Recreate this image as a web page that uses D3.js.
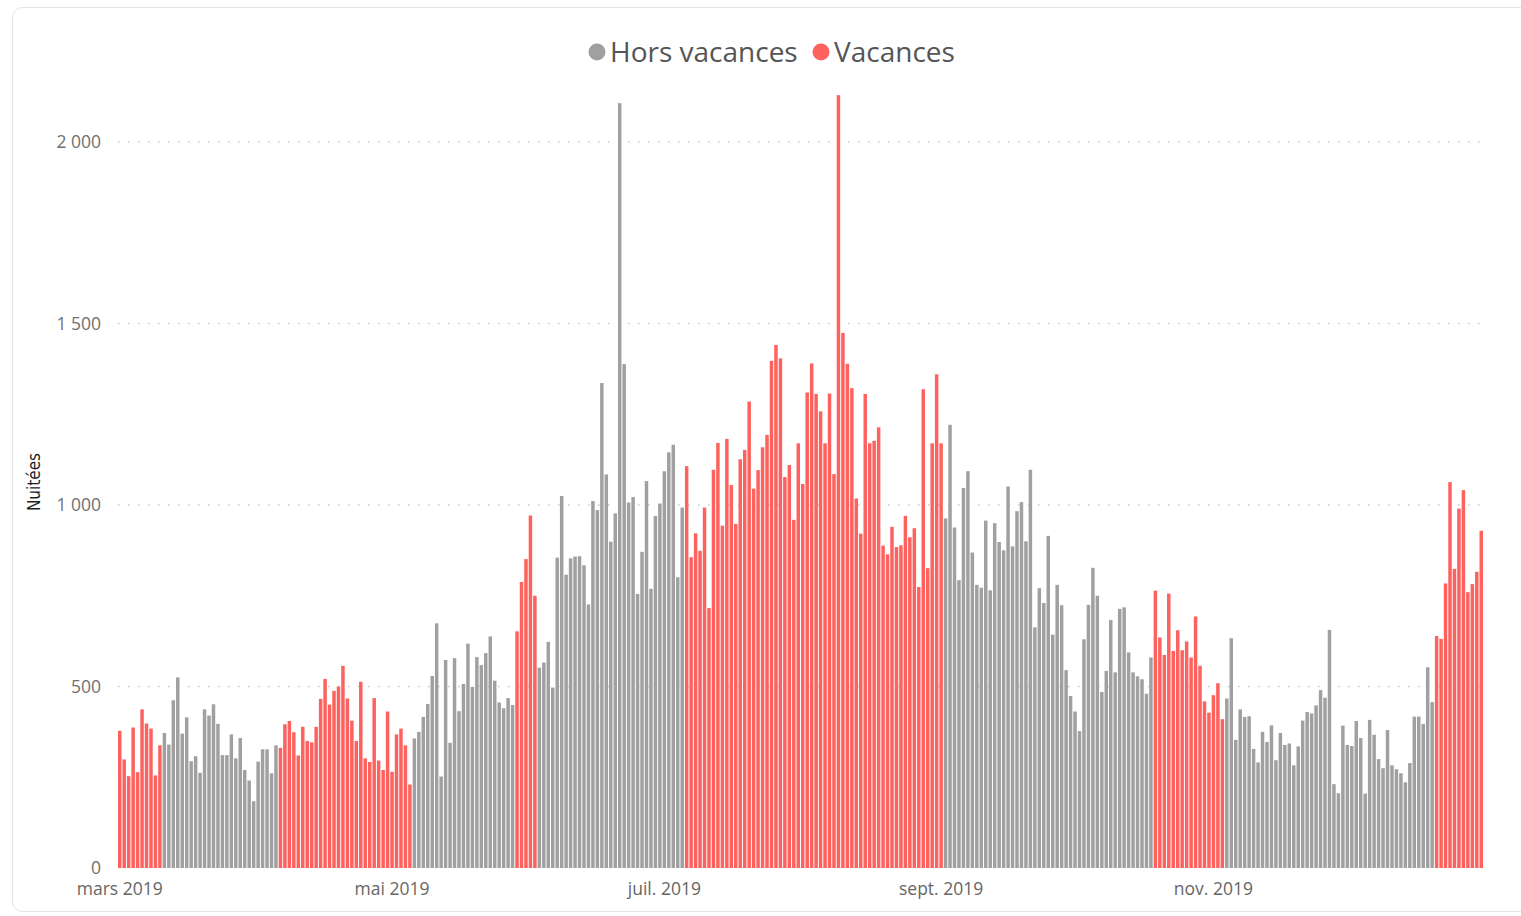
<!DOCTYPE html>
<html>
<head>
<meta charset="utf-8">
<script src="https://cdn.jsdelivr.net/npm/d3@7"></script>
<style>
  body { margin: 0; background: #fff; }
  svg { display: block; font-family: "Open Sans", "Noto Sans", sans-serif; }
</style>
</head>
<body>
<script>
// nuitées par jour, du 1er mars au 31 décembre 2019
var startDate = '2019-03-01',
    endDate = '2020-01-01';

var nuitees = [
  378, 299, 253, 387, 264, 437, 398, 384, 255, 338,
  372, 340, 462, 525, 370, 415, 294, 308, 262, 437,
  420, 451, 397, 311, 311, 368, 302, 358, 270, 241, 184,
  293, 327, 327, 261, 338, 331, 396, 405, 374, 310,
  389, 350, 346, 389, 466, 521, 450, 488, 500, 557,
  467, 406, 350, 513, 302, 292, 468, 296, 270, 431,
  265, 368, 384, 338, 230, 357, 375, 416, 452, 529,
  674, 252, 573, 345, 578, 432, 507, 618, 499, 581,
  559, 592, 638, 516, 456, 440, 468, 449, 652, 788,
  851, 971, 750, 552, 566, 623, 497, 855, 1025, 808,
  853, 858, 859, 834, 726, 1011, 986, 1336, 1084, 899,
  977, 2107, 1388, 1007, 1022, 755, 871, 1066, 769, 970,
  1004, 1093, 1145, 1166, 801, 993, 1107, 856, 922, 874,
  993, 716, 1097, 1171, 943, 1182, 1055, 948, 1126, 1152,
  1285, 1045, 1096, 1159, 1193, 1397, 1441, 1404, 1077, 1110,
  959, 1170, 1058, 1310, 1390, 1306, 1258, 1170, 1307, 1085,
  2129, 1474, 1389, 1322, 1018, 921, 1306, 1170, 1177, 1214,
  888, 864, 940, 884, 889, 970, 911, 936, 774, 1319,
  826, 1170, 1360, 1170, 963, 1221, 938, 793, 1047, 1093,
  869, 780, 772, 957, 765, 950, 898, 875, 1051, 886,
  983, 1008, 900, 1097, 663, 771, 730, 915, 643, 780,
  724, 545, 474, 431, 377, 630, 725, 827, 750, 485,
  543, 683, 539, 714, 718, 594, 539, 528, 520, 480,
  580, 764, 635, 587, 756, 598, 655, 600, 624, 580,
  693, 557, 459, 428, 476, 509, 410, 467, 633, 353,
  437, 416, 418, 328, 291, 375, 347, 393, 297, 372,
  339, 343, 283, 335, 406, 430, 426, 448, 490, 469,
  656, 231, 206, 392, 339, 336, 405, 358, 205, 408,
  367, 300, 275, 380, 283, 272, 261, 236, 289, 417,
  417, 397, 553, 457, 639, 631, 784, 1063, 824, 990,
  1041, 760, 782, 816, 929
];

// périodes de vacances scolaires (début, fin inclus)
var vacances = [
  ['2019-03-01', '2019-03-10'],
  ['2019-04-06', '2019-05-05'],
  ['2019-05-29', '2019-06-02'],
  ['2019-07-06', '2019-09-01'],
  ['2019-10-19', '2019-11-03'],
  ['2019-12-21', '2019-12-31']
];

var series = ['Hors vacances', 'Vacances'];
var colors = ['#a0a0a0', '#fd625e'];

var yTicks = [0, 500, 1000, 1500, 2000];
var xTickDates = ['2019-03-01', '2019-05-01', '2019-07-01', '2019-09-01', '2019-11-01'];
var xTickLabels = ['mars 2019', 'mai 2019', 'juil. 2019', 'sept. 2019', 'nov. 2019'];

var parse = d3.timeParse('%Y-%m-%d');
var days = d3.timeDay.range(parse(startDate), parse(endDate));
var data = days.map(function(d, i) {
  var vac = vacances.some(function(p) { return d >= parse(p[0]) && d <= parse(p[1]); });
  return { date: d, value: nuitees[i], serie: vac ? 1 : 0 };
});

var width = 1521, height = 916;
var plot = { left: 118, right: 1483, top: 142, bottom: 868 };

var fr = d3.formatLocale({ decimal: ',', thousands: '\u00a0', grouping: [3], currency: ['', ' €'] });
var fmt = fr.format(',');

var x = d3.scaleBand()
    .domain(days)
    .range([plot.left, plot.right])
    .paddingInner(0.22)
    .paddingOuter(0);

var y = d3.scaleLinear()
    .domain([0, 2000])
    .range([plot.bottom, plot.top]);

var svg = d3.select('body')
  .append('svg')
    .attr('width', width)
    .attr('height', height);

// carte
svg.append('rect')
    .attr('x', 12.5)
    .attr('y', 7.5)
    .attr('width', 1560)
    .attr('height', 904)
    .attr('rx', 10)
    .attr('fill', '#fff')
    .attr('stroke', '#e3e3e3');

// grille
svg.append('g')
  .selectAll('line')
  .data(yTicks.slice(1))
  .enter().append('line')
    .attr('x1', plot.left)
    .attr('x2', plot.right)
    .attr('y1', function(d) { return y(d); })
    .attr('y2', function(d) { return y(d); })
    .attr('stroke', '#c8c8c8')
    .attr('stroke-width', 1.5)
    .attr('stroke-dasharray', '1.5 8.5');

var yAxis = d3.axisLeft(y)
    .tickValues(yTicks)
    .tickFormat(fmt)
    .tickSize(0)
    .tickPadding(0);

svg.append('g')
    .attr('transform', 'translate(101,0)')
    .call(yAxis)
    .call(function(g) { g.select('.domain').remove(); })
    .selectAll('text')
    .attr('fill', '#707070')
    .style('font-size', '17.5px')
    .style('font-family', '"Open Sans", sans-serif');

svg.append('text')
    .attr('transform', 'translate(40,482) rotate(-90)')
    .attr('text-anchor', 'middle')
    .attr('fill', '#1f1f1f')
    .style('font-size', '17px')
    .style('font-family', '"DejaVu Sans Condensed", "Roboto", sans-serif')
    .text('Nuitées');

// barres
svg.append('g')
  .selectAll('rect')
  .data(data)
  .enter().append('rect')
    .attr('x', function(d) { return x(d.date); })
    .attr('width', x.bandwidth())
    .attr('y', function(d) { return y(d.value); })
    .attr('height', function(d) { return y(0) - y(d.value); })
    .attr('fill', function(d) { return colors[d.serie]; });

// axe des x
var xAxis = d3.axisBottom(x)
    .tickValues(xTickDates.map(parse))
    .tickFormat(function(d, i) { return xTickLabels[i]; })
    .tickSize(0)
    .tickPadding(15);

svg.append('g')
    .attr('transform', 'translate(0,' + plot.bottom + ')')
    .call(xAxis)
    .call(function(g) { g.select('.domain').remove(); })
    .selectAll('text')
    .attr('fill', '#666')
    .style('font-size', '17.5px')
    .style('font-family', '"Open Sans", sans-serif');

// légende
var legend = svg.append('g').attr('transform', 'translate(597,52)');
var lx = [0, 224];
series.forEach(function(s, i) {
  var item = legend.append('g').attr('transform', 'translate(' + lx[i] + ',0)');
  item.append('circle')
      .attr('r', 8.5)
      .attr('fill', colors[i]);
  item.append('text')
      .attr('x', 13)
      .attr('dy', '0.35em')
      .attr('fill', '#555')
      .style('font-size', '28px')
      .text(s);
});
</script>
</body>
</html>
